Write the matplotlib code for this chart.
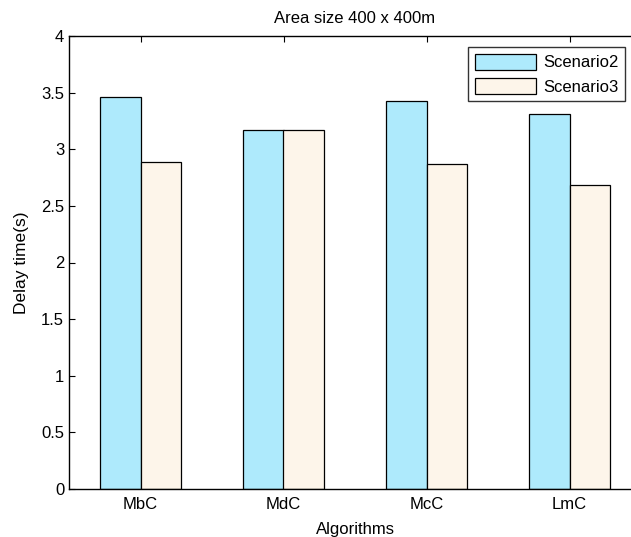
import matplotlib.pyplot as plt
import numpy as np

plt.rcParams['font.family'] = ['Liberation Sans', 'DejaVu Sans']

# Data
algorithms = ["MbC", "MdC", "McC", "LmC"]
scenario2 = [3.46, 3.17, 3.43, 3.31]
scenario3 = [2.89, 3.17, 2.87, 2.68]

blue = "#aeeafc"
cream = "#fdf5ea"

fig = plt.figure(figsize=(6.31, 5.37), dpi=100)
# axes reaches past the right edge of the picture, as in the original
ax = fig.add_axes([69 / 631, 1 - 489 / 537, 572 / 631, 453 / 537])
ax.set_axisbelow(True)

x = np.arange(1, len(algorithms) + 1)
w = 0.286
ax.bar(x - w / 2, scenario2, w, color=blue, edgecolor="black", linewidth=0.9,
  label="Scenario2")
ax.bar(x + w / 2, scenario3, w, color=cream, edgecolor="black", linewidth=0.9,
  label="Scenario3")

ax.set_xlim(0.5, 4.5)
ax.set_ylim(0, 4)
ax.set_xticks(x)
ax.set_xticklabels(algorithms)
ax.set_yticks(np.arange(0, 4.01, 0.5))
ax.set_yticklabels(["0", "0.5", "1", "1.5", "2", "2.5", "3", "3.5", "4"])
ax.tick_params(direction="in", top=True, right=True, labelsize=12, length=4)
ax.tick_params(axis="x", pad=6)
for s in ax.spines.values():
  s.set_linewidth(1.0)

ax.set_title("Area size 400 x 400m", fontsize=12, pad=9)
ax.set_xlabel("Algorithms", fontsize=12, labelpad=7)
ax.set_ylabel("Delay time(s)", fontsize=12.5)
ax.yaxis.set_label_coords(-40 / 572, 0.5)

leg = ax.legend(loc="upper left", bbox_to_anchor=(399 / 572, 1 - 11 / 453),
  fontsize=12, frameon=True, fancybox=False, edgecolor="black",
  handlelength=3.7, handleheight=1.1, borderpad=0.4, labelspacing=0.45,
  handletextpad=0.4, borderaxespad=0)
leg.get_frame().set_linewidth(1.0)

plt.savefig("out.png", dpi=100)
